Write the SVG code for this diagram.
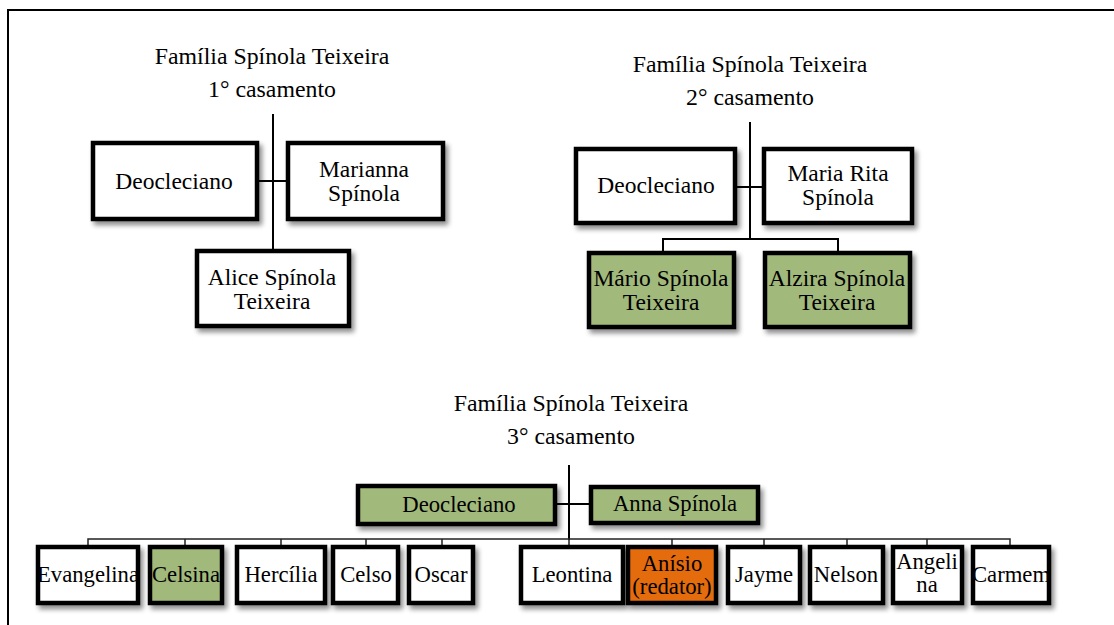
<svg xmlns="http://www.w3.org/2000/svg" width="1114" height="625" viewBox="0 0 1114 625">
<defs>
<filter id="sh" x="-20%" y="-20%" width="150%" height="160%">
<feGaussianBlur in="SourceAlpha" stdDeviation="2.5"/>
<feOffset dx="3" dy="4" result="b"/>
<feComponentTransfer><feFuncA type="linear" slope="0.45"/></feComponentTransfer>
<feMerge><feMergeNode/><feMergeNode in="SourceGraphic"/></feMerge>
</filter>
</defs>
<style>
text{fill:#000;text-anchor:middle}
.t{font-size:23.8px}
.b{font-size:23.5px}
.s{font-size:22.7px}
rect.n{stroke:#000;stroke-width:4.5;filter:url(#sh)}
.w{fill:#fff}.g{fill:#a2b97b}.o{fill:#e46c0a}
.c{stroke:#000;stroke-width:2;fill:none}
.c2{stroke:#222;stroke-width:1.5;fill:none}
</style>
<rect width="1114" height="625" fill="#fff"/>
<path d="M8 625 V10 H1114" fill="none" stroke="#000" stroke-width="2"/>
<g font-family="'Liberation Serif', 'Times New Roman', 'DejaVu Serif', serif">
<g id="titles">
<text class="t" x="272" y="64">Família Spínola Teixeira</text>
<text class="t" x="272" y="97">1° casamento</text>
<text class="t" x="750" y="72">Família Spínola Teixeira</text>
<text class="t" x="750" y="105">2° casamento</text>
<text class="t" x="571" y="411">Família Spínola Teixeira</text>
<text class="t" x="571" y="444">3° casamento</text>
</g>
<g id="connectors">
<path class="c" d="M273 114 V250 M257 181 H287"/>
<path class="c" d="M750 122 V239 M735 187 H763 M663 252 V239 H838 V252"/>
<path class="c" d="M569 465 V540" stroke-width="3"/>
<path class="c" d="M555 504 H590"/>
<path class="c2" d="M88 546 V539 H1010 V546 M185 539 V546 M281 539 V546 M366 539 V546 M442 539 V546 M569 539 V546 M672 539 V546 M764 539 V546 M847 539 V546 M927 539 V546"/>
</g>
<g id="n1-deocleciano"><rect class="n w" x="93" y="143" width="164" height="76"/><text class="b" x="174" y="189">Deocleciano</text></g>
<g id="n1-marianna"><rect class="n w" x="288" y="143" width="155" height="76"/><text class="b" x="364" y="177">Marianna</text><text class="b" x="364" y="201">Spínola</text></g>
<g id="n1-alice"><rect class="n w" x="197" y="251" width="152" height="75"/><text class="b" x="272" y="285">Alice Spínola</text><text class="b" x="272" y="309">Teixeira</text></g>
<g id="n2-deocleciano"><rect class="n w" x="576" y="149" width="159" height="74"/><text class="b" x="656" y="193">Deocleciano</text></g>
<g id="n2-mariarita"><rect class="n w" x="764" y="149" width="148" height="74"/><text class="b" x="838" y="181">Maria Rita</text><text class="b" x="838" y="205">Spínola</text></g>
<g id="n2-mario"><rect class="n g" x="589" y="253" width="145" height="74"/><text class="b" x="661" y="286">Mário Spínola</text><text class="b" x="661" y="310">Teixeira</text></g>
<g id="n2-alzira"><rect class="n g" x="765" y="253" width="145" height="74"/><text class="b" x="837" y="286">Alzira Spínola</text><text class="b" x="837" y="310">Teixeira</text></g>
<g id="n3-deocleciano"><rect class="n g" x="358" y="486" width="197" height="38"/><text class="s" x="459" y="512">Deocleciano</text></g>
<g id="n3-anna"><rect class="n g" x="591" y="487" width="167" height="36"/><text class="s" x="675" y="511">Anna Spínola</text></g>
<g id="c-evangelina"><rect class="n w" x="38" y="547" width="100" height="56"/><text class="s" x="88" y="582">Evangelina</text></g>
<g id="c-celsina"><rect class="n g" x="150" y="547" width="72" height="56"/><text class="s" x="186" y="582">Celsina</text></g>
<g id="c-hercilia"><rect class="n w" x="237" y="547" width="88" height="56"/><text class="s" x="281" y="582">Hercília</text></g>
<g id="c-celso"><rect class="n w" x="333" y="547" width="65" height="56"/><text class="s" x="366" y="582">Celso</text></g>
<g id="c-oscar"><rect class="n w" x="409" y="547" width="64" height="56"/><text class="s" x="441" y="582">Oscar</text></g>
<g id="c-leontina"><rect class="n w" x="521" y="547" width="102" height="56"/><text class="s" x="572" y="582">Leontina</text></g>
<g id="c-anisio"><rect class="n o" x="628" y="547" width="88" height="56"/><text class="s" x="672" y="571">Anísio</text><text class="s" x="672" y="594">(redator)</text></g>
<g id="c-jayme"><rect class="n w" x="728" y="547" width="72" height="56"/><text class="s" x="764" y="582">Jayme</text></g>
<g id="c-nelson"><rect class="n w" x="810" y="547" width="73" height="56"/><text class="s" x="846" y="582">Nelson</text></g>
<g id="c-angelina"><rect class="n w" x="893" y="547" width="69" height="56"/><text class="s" x="927" y="569">Angeli</text><text class="s" x="927" y="592">na</text></g>
<g id="c-carmem"><rect class="n w" x="973" y="547" width="76" height="56"/><text class="s" x="1011" y="582">Carmem</text></g>
</g>
</svg>
